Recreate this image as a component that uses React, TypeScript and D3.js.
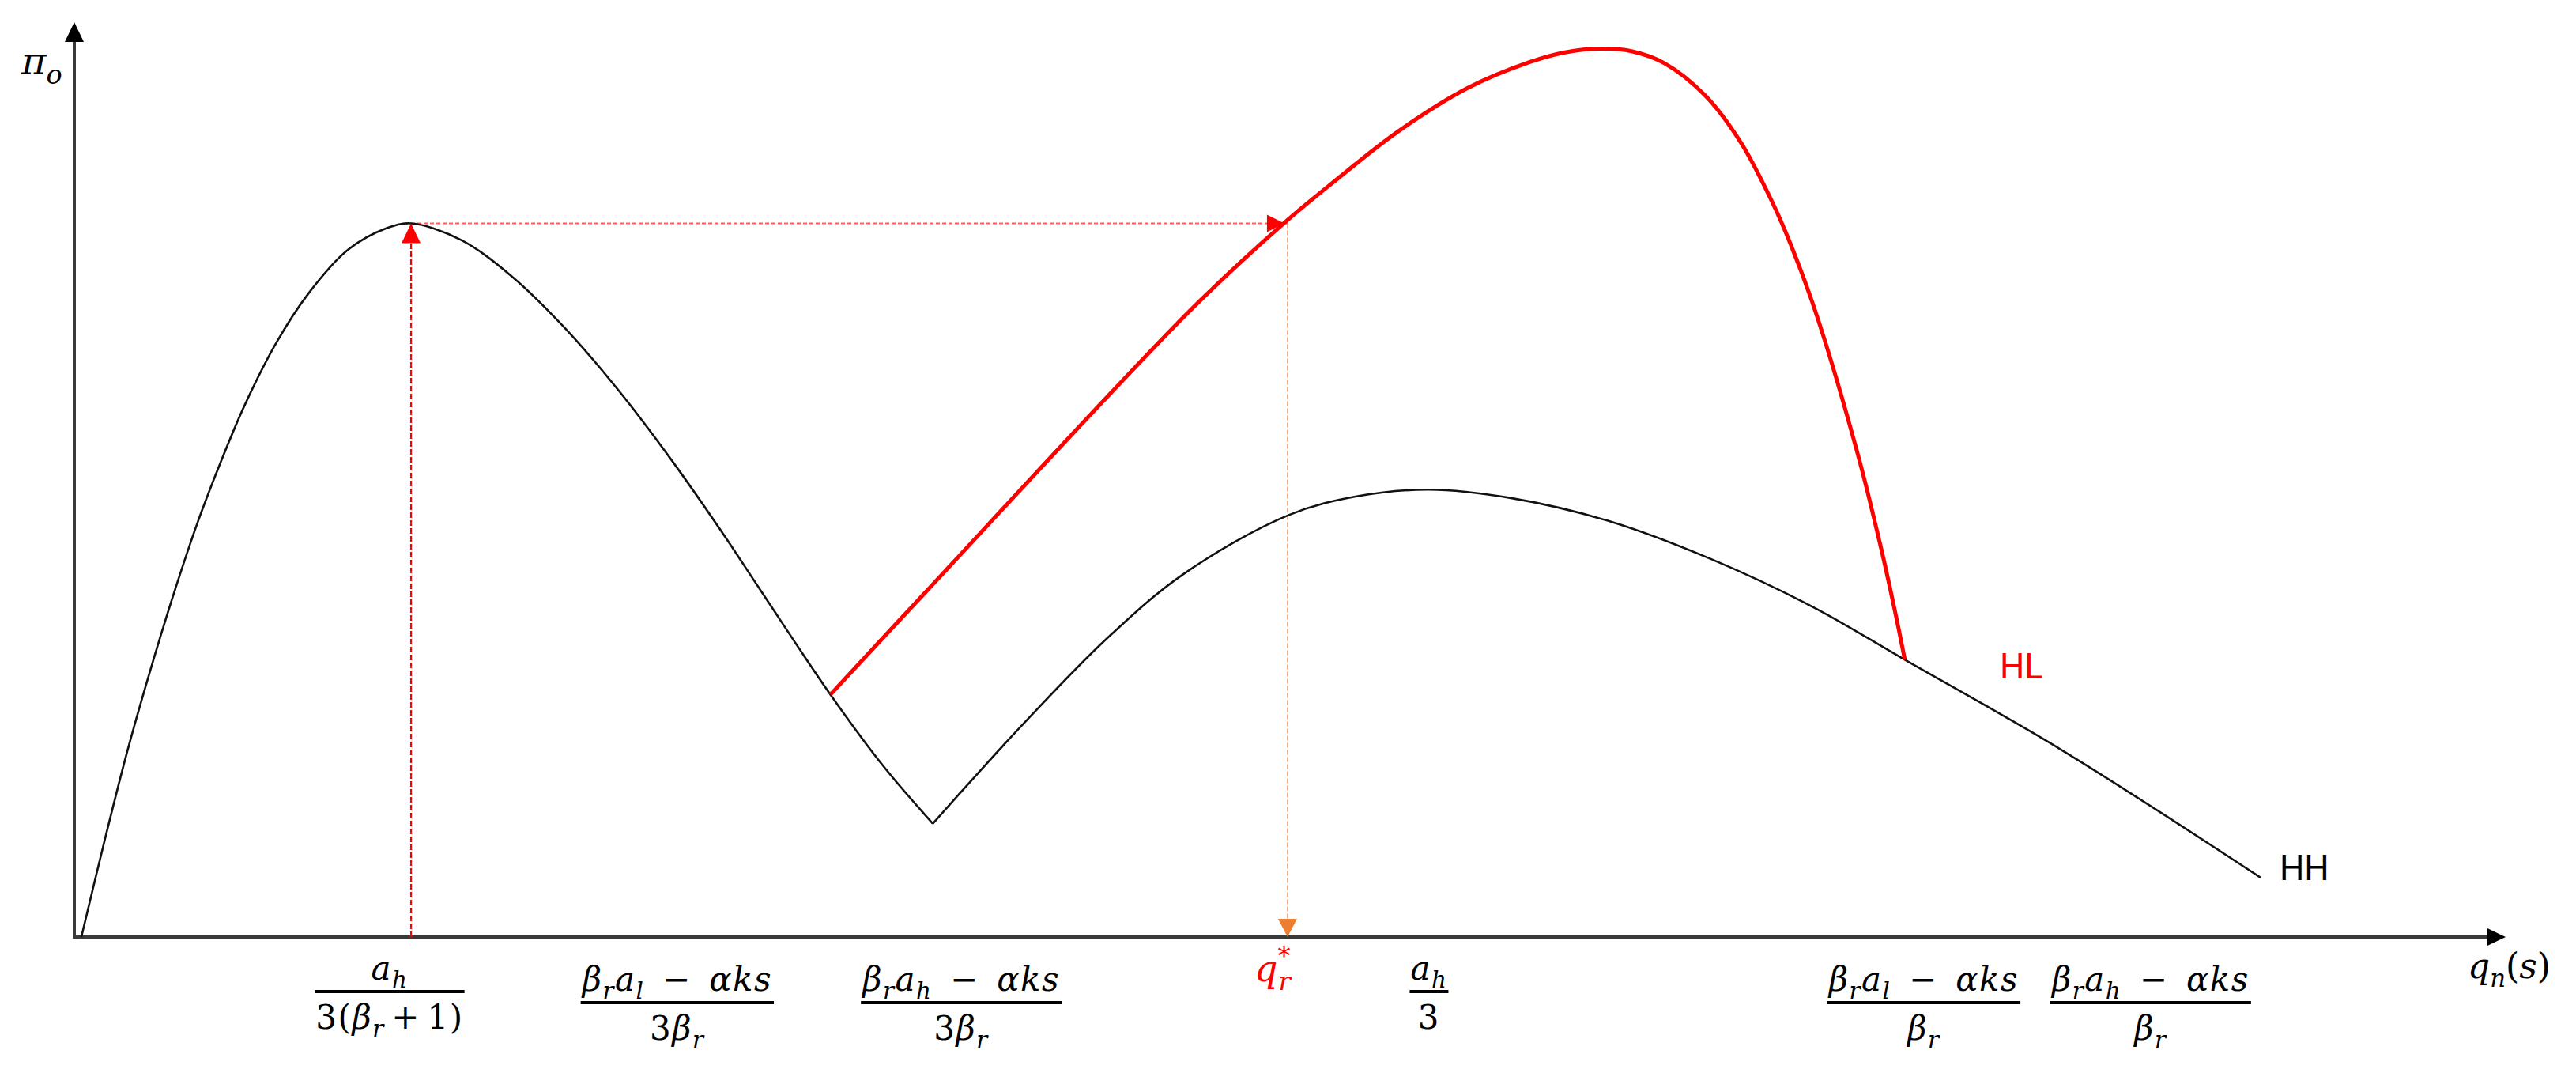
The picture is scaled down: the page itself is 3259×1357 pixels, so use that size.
import { useEffect, useRef } from "react";
import * as d3 from "d3";

const W = 3259;
const H = 1357;

// HH curve (black), abstract units: x 0..100 along q_n(s), y 0..100 along π_o
const hhLeft: [number, number][] = [
  [0.29, 0], [1.27, 10.8], [2.18, 20.3], [3.12, 29.1], [4.1, 37.6], [5.07, 45.3],
  [6.05, 52.1], [7.02, 58.2], [8.32, 65.0], [9.62, 70.3], [11.25, 75.1], [12.87, 77.5],
  [13.85, 78.0], [15.9, 76.2], [18.0, 72.2], [20.2, 66.5], [22.4, 59.7], [24.6, 52.0],
  [26.6, 44.4], [28.3, 37.6], [31.1, 26.5], [33.3, 18.6], [35.31, 12.4],
];
const hhRight: [number, number][] = [
  [35.31, 12.4], [37.03, 17.5], [39.21, 23.8], [42.46, 32.6], [45.58, 39.6], [49.93, 46.1],
  [52.83, 48.2], [55.72, 48.9], [59.04, 48.0], [63.2, 45.4], [67.33, 41.3], [71.49, 36.1],
  [75.29, 30.3], [81.7, 20.5], [89.92, 6.5],
];
// HL curve (red)
const hlCurve: [number, number][] = [
  [31.1, 26.5], [34.98, 37.6], [45.9, 68.5], [49.74, 78.0], [51.92, 82.8], [54.42, 88.0],
  [57.31, 92.8], [59.82, 95.6], [61.31, 96.7], [62.78, 97.1], [64.08, 96.8], [65.41, 95.5],
  [67.07, 92.0], [68.53, 86.9], [69.77, 80.7], [70.58, 75.8], [71.62, 68.3], [73.34, 52.9],
  [74.32, 42.4], [74.9, 35.4], [75.29, 30.3],
];

const peakX = 13.85;
const peakY = 78.0;
const qStarX = 49.9;

// x-axis labels: numerator / denominator ("" = single red label)
const tickX = [12.97, 24.8, 36.48, 49.3, 55.72, 76.07, 85.4];
const tickNum = ["a_h", "β_ra_l − αks", "β_ra_h − αks", "q_r^*", "a_h", "β_ra_l − αks", "β_ra_h − αks"];
const tickDen = ["3(β_r + 1)", "3β_r", "3β_r", "", "3", "β_r", "β_r"];

const MATH_FONT = "'DejaVu Serif', serif";
const LABEL_FONT = "Roboto, 'Liberation Sans', sans-serif";
const RED = "#ff0000";

type Tok = { t: string; k: "n" | "sub" | "sup" };

function tokens(s: string): Tok[] {
  const out: Tok[] = [];
  for (let i = 0; i < s.length; i++) {
    const c = s[i];
    if ((c === "_" || c === "^") && i + 1 < s.length) {
      out.push({ t: s[i + 1], k: c === "_" ? "sub" : "sup" });
      i++;
    } else if (c === " ") {
      // wider space around the minus sign, thin elsewhere
      const nearMinus = s[i - 1] === "−" || s[i + 1] === "−";
      out.push({ t: nearMinus ? "\u2002" : "\u2006", k: "n" });
    } else out.push({ t: c, k: "n" });
  }
  return out;
}

function mathText(g: any, str: string, x: number, y: number, size: number, color: string, anchor = "middle", spacing = 0) {
  const text = g
    .append("text")
    .attr("x", x)
    .attr("y", y)
    .attr("text-anchor", anchor)
    .attr("fill", color)
    .attr("font-family", MATH_FONT)
    .attr("font-size", size)
    .attr("letter-spacing", spacing)
    .style("white-space", "pre");
  let shift = 0;
  let lastSub: SVGTSpanElement | null = null;
  tokens(str).forEach((tok) => {
    const target = tok.k === "sub" ? size * 0.24 : tok.k === "sup" ? -size * 0.45 : 0;
    const ts = text
      .append("tspan")
      .text(tok.t)
      .attr("font-size", tok.k === "n" ? size : size * 0.7)
      .attr("font-style", /[A-Za-zα-ωπ]/.test(tok.t) ? "italic" : "normal")
      .attr("dy", target - shift);
    if (tok.k === "sup" && lastSub) ts.attr("dx", -lastSub.getComputedTextLength() - spacing);
    shift = target;
    lastSub = tok.k === "sub" ? ts.node() : null;
  });
  return text;
}

export default function App() {
  const ref = useRef<SVGSVGElement>(null);

  useEffect(() => {
    document.body.style.margin = "0";
    const svg = d3.select(ref.current);
    svg.selectAll("*").remove();

    const x = d3.scaleLinear().domain([0, 100]).range([94, 3170]);
    const y = d3.scaleLinear().domain([0, 100]).range([1185, 28]);

    const line = d3
      .line<[number, number]>()
      .x((d) => x(d[0]))
      .y((d) => y(d[1]))
      .curve(d3.curveCatmullRom.alpha(0.5));

    const x0 = x(0);
    const y0 = y(0);

    // axes
    svg.append("line").attr("x1", x0).attr("y1", y0 + 2).attr("x2", x0).attr("y2", y(100) + 20)
      .attr("stroke", "#3a3a3a").attr("stroke-width", 4);
    svg.append("line").attr("x1", x0 - 2).attr("y1", y0).attr("x2", x(100) - 18).attr("y2", y0)
      .attr("stroke", "#3a3a3a").attr("stroke-width", 4);
    svg.append("path").attr("d", `M${x0},${y(100)}L${x0 - 12},${y(100) + 25}L${x0 + 12},${y(100) + 25}Z`).attr("fill", "#000");
    svg.append("path").attr("d", `M${x(100)},${y0}L${x(100) - 23},${y0 - 11}L${x(100) - 23},${y0 + 11}Z`).attr("fill", "#000");

    // guide lines
    const px = x(peakX);
    const py = y(peakY);
    const qx = x(qStarX);
    svg.append("line").attr("x1", px).attr("y1", y0).attr("x2", px).attr("y2", py + 20)
      .attr("stroke", RED).attr("stroke-width", 2.2).attr("stroke-dasharray", "7 3");
    svg.append("line").attr("x1", px).attr("y1", py).attr("x2", qx).attr("y2", py)
      .attr("stroke", RED).attr("stroke-width", 2).attr("stroke-opacity", 0.65).attr("stroke-dasharray", "5 3");
    svg.append("line").attr("x1", qx).attr("y1", py).attr("x2", qx).attr("y2", y0 - 20)
      .attr("stroke", "#ed7d31").attr("stroke-width", 1.6).attr("stroke-opacity", 0.7).attr("stroke-dasharray", "6 3");

    // curves
    svg.append("path").attr("d", line(hhLeft)).attr("fill", "none").attr("stroke", "#111").attr("stroke-width", 2.6);
    svg.append("path").attr("d", line(hhRight)).attr("fill", "none").attr("stroke", "#111").attr("stroke-width", 2.6);
    svg.append("path").attr("d", line(hlCurve)).attr("fill", "none").attr("stroke", RED).attr("stroke-width", 5);

    // arrowheads on guides
    svg.append("path").attr("d", `M${px},${py}L${px - 12},${py + 25}L${px + 12},${py + 25}Z`).attr("fill", RED);
    const ax = qx - 4;
    svg.append("path").attr("d", `M${ax},${py}L${ax - 22},${py - 11}L${ax - 22},${py + 11}Z`).attr("fill", RED);
    svg.append("path").attr("d", `M${qx},${y0}L${qx - 12},${y0 - 23}L${qx + 12},${y0 - 23}Z`).attr("fill", "#ed7d31");

    // curve names
    const hlEnd = hlCurve[hlCurve.length - 1];
    svg.append("text").attr("x", x(hlEnd[0]) + 120).attr("y", y(hlEnd[1]) + 24)
      .attr("font-family", LABEL_FONT).attr("font-size", 44).attr("fill", RED).text("HL");
    const hhEnd = hhRight[hhRight.length - 1];
    svg.append("text").attr("x", x(hhEnd[0]) + 24).attr("y", y(hhEnd[1]) + 3)
      .attr("font-family", LABEL_FONT).attr("font-size", 44).attr("fill", "#000").text("HH");

    // axis titles
    mathText(svg, "π_o", 27, 94, 48, "#000", "start");
    mathText(svg, "q_n(s)", 3122, 1237, 44, "#000", "start");

    // x tick labels
    tickX.forEach((tx, i) => {
      const cx = x(tx);
      if (tickDen[i] === "") {
        mathText(svg, tickNum[i], cx, y0 + 56, 46, RED, "middle", 1);
        return;
      }
      const barY = y0 + (tickNum[i].includes("β") ? 83 : 69);
      const num = mathText(svg, tickNum[i], cx, barY - 15, 42, "#000", "middle", 1.5);
      const den = mathText(svg, tickDen[i], cx, barY + 47, 42, "#000", "middle", 1.5);
      const w = Math.max(num.node().getBBox().width, den.node().getBBox().width) + 2;
      svg.append("line").attr("x1", cx - w / 2).attr("x2", cx + w / 2).attr("y1", barY).attr("y2", barY)
        .attr("stroke", "#000").attr("stroke-width", 4);
    });
  }, []);

  return <svg ref={ref} width={W} height={H} style={{ display: "block", background: "#fff" }} />;
}
